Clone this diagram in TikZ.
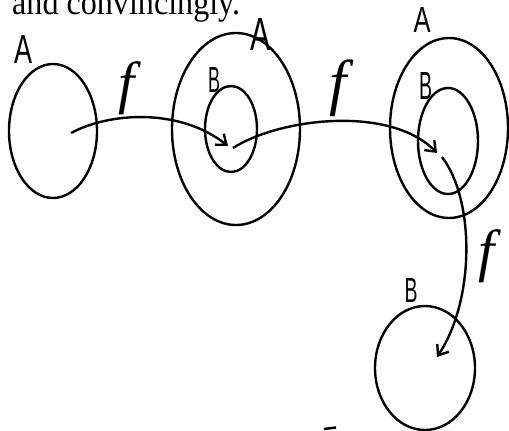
\documentclass[tikz,border=0pt]{standalone}
\usepackage{fontspec}
\usepackage{graphicx}
\usetikzlibrary{shapes.geometric,arrows.meta}
\newfontfamily\handfont{Liberation Sans}
\newfontfamily\bookfont{Liberation Serif}
\newcommand\handlab[3]{\resizebox{#1pt}{#2pt}{\handfont #3}}
\newcommand\handf[1]{{\fontsize{#1}{#1}\selectfont\bookfont\itshape f}}
\tikzset{
  setshape/.style={draw, ellipse, line width=2.4pt, inner sep=0pt},
  mapline/.style={-{Straight Barb[length=9pt,width=14pt]}, line width=2.4pt},
  lbl/.style={inner sep=0pt}
}
\begin{document}
\begin{tikzpicture}[x=1pt,y=-1pt]
\useasboundingbox (0,0) rectangle (509,431);
\clip (0,0) rectangle (509,431);
% cut-off text at the top
\node[lbl, anchor=base west] (txt) at (12,14.5) {\resizebox{228pt}{25pt}{\bookfont and convincingly.}};
% sets
\node[setshape, minimum width=88pt, minimum height=134pt] (A1) at (53,131) {};
\node[setshape, minimum width=128pt, minimum height=192pt] (A2) at (236,129) {};
\node[setshape, minimum width=52pt, minimum height=86pt] (B2) at (231,129) {};
\node[setshape, minimum width=118pt, minimum height=180pt] (A3) at (449,128) {};
\node[setshape, minimum width=60pt, minimum height=106pt] (B3) at (448,141) {};
\node[setshape, minimum width=100pt, minimum height=124pt] (B4) at (425,368) {};
% labels
\node[lbl] (lA1) at (24,49) {\handlab{18}{28}{A}};
\node[lbl] (lA2) at (260,34) {\handlab{20}{32}{A}};
\node[lbl] (lA3) at (422,20) {\handlab{17}{25}{A}};
\node[lbl] (lB2) at (214,80) {\handlab{12}{25}{B}};
\node[lbl] (lB3) at (426,86) {\handlab{13}{27}{B}};
\node[lbl] (lB4) at (411,290) {\handlab{13}{24}{B}};
\node[lbl] (lf1) at (127,88) {\handf{58}};
\node[lbl] (lf2) at (338,88) {\handf{62}};
\node[lbl] (lf3) at (487,256) {\handf{58}};
% map arrows
\coordinate (s1) at (71,133);
\coordinate (e1) at (228,146);
\coordinate (s2) at (233,148);
\coordinate (e2) at (437,153);
\coordinate (s3) at (442,157);
\coordinate (e3) at (437,357);
\draw[mapline] (s1) .. controls (110,112) and (180,108) .. (e1);
\draw[mapline] (s2) .. controls (280,118) and (390,105) .. (e2);
\draw[mapline] (s3) .. controls (475,200) and (475,300) .. (e3);
% stray dash
\coordinate (d1) at (324,429);
\coordinate (d2) at (336,427.5);
\draw[line width=2.5pt] (d1) -- (d2);
\end{tikzpicture}
\end{document}
